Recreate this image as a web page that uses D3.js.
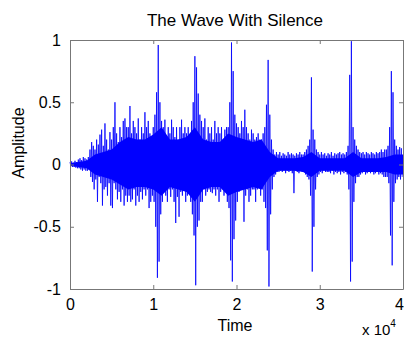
<!DOCTYPE html>
<html>
<head>
<meta charset="utf-8">
<script src="https://cdn.jsdelivr.net/npm/d3@7"></script>
<style>
  html, body { margin: 0; padding: 0; background: #fff; }
  svg { display: block; }
  text { font-family: "Liberation Sans", Arial, sans-serif; fill: #000; }
</style>
</head>
<body>
<div id="chart"></div>
<script>
// ---- data ----
const title = "The Wave With Silence";
const xLabel = "Time";
const yLabel = "Amplitude";
const xTicks = [0, 10000, 20000, 30000, 40000];
const xTickLabels = ["0", "1", "2", "3", "4"];
const yTicks = [-1, -0.5, 0, 0.5, 1];
const yTickLabels = ["-1", "-0.5", "0", "0.5", "1"];
const sampleStep = 100;   // one extreme value per 100 samples
const coreStep = 1000;    // one core-envelope value per 1000 samples
// amplitude extremes, one row per 1000 samples
const amplitude = [
  0.02,-0.015,0.025,-0.02,0.015,-0.02,0.03,-0.025,0.02,-0.03,
  0.04,-0.03,0.05,-0.04,0.035,-0.05,0.06,-0.04,0.05,-0.05,
  0.04,-0.05,0.06,-0.04,0.12,-0.1,0.18,-0.14,0.15,-0.2,
  0.12,-0.12,0.2,-0.3,0.16,-0.1,0.24,-0.15,0.28,-0.33,
  0.15,-0.2,0.33,-0.18,0.2,-0.25,0.12,-0.15,0.26,-0.33,
  0.2,-0.35,0.3,-0.15,0.5,-0.2,0.25,-0.28,0.18,-0.22,
  0.3,-0.3,0.22,-0.2,0.35,-0.33,0.37,-0.25,0.3,-0.3,
  0.3,-0.25,0.47,-0.3,0.25,-0.28,0.35,-0.2,0.3,-0.33,
  0.25,-0.25,0.37,-0.3,0.2,-0.22,0.3,-0.28,0.25,-0.2,
  0.42,-0.25,0.3,-0.2,0.35,-0.35,0.25,-0.3,0.22,-0.25,
  0.3,-0.3,0.4,-0.5,0.58,-0.91,0.96,-0.78,0.5,-0.4,
  0.35,-0.3,0.3,-0.2,0.36,-0.25,0.2,-0.3,0.3,-0.2,
  0.25,-0.26,0.36,-0.2,0.3,-0.3,0.22,-0.47,0.3,-0.26,
  0.2,-0.42,0.3,-0.22,0.36,-0.25,0.25,-0.2,0.3,-0.3,
  0.25,-0.25,0.3,-0.2,0.22,-0.3,0.35,-0.4,0.5,-0.57,
  0.87,-0.97,0.78,-0.5,0.57,-0.45,0.4,-0.3,0.35,-0.3,
  0.3,-0.2,0.37,-0.25,0.2,-0.22,0.3,-0.2,0.25,-0.22,
  0.3,-0.23,0.2,-0.2,0.35,-0.25,0.25,-0.2,0.3,-0.3,
  0.25,-0.22,0.3,-0.2,0.2,-0.25,0.28,-0.2,0.3,-0.3,
  0.3,-0.35,0.5,-0.77,0.98,-0.94,0.75,-0.6,0.4,-0.45,
  0.33,-0.3,0.3,-0.22,0.25,-0.2,0.35,-0.2,0.3,-0.46,
  0.44,-0.25,0.3,-0.2,0.25,-0.3,0.2,-0.25,0.28,-0.2,
  0.25,-0.2,0.2,-0.3,0.22,-0.2,0.25,-0.18,0.2,-0.25,
  0.2,-0.2,0.25,-0.3,0.3,-0.35,0.48,-0.69,0.84,-0.98,
  0.4,-0.4,0.2,-0.2,0.12,-0.1,0.08,-0.08,0.1,-0.06,
  0.08,-0.06,0.1,-0.05,0.07,-0.06,0.09,-0.05,0.08,-0.07,
  0.07,-0.05,0.1,-0.06,0.08,-0.05,0.09,-0.07,0.08,-0.23,
  0.07,-0.05,0.09,-0.06,0.08,-0.07,0.1,-0.05,0.08,-0.06,
  0.08,-0.06,0.1,-0.08,0.12,-0.1,0.15,-0.12,0.2,-0.25,
  0.7,-0.86,0.28,-0.5,0.2,-0.2,0.12,-0.1,0.1,-0.08,
  0.08,-0.06,0.1,-0.07,0.08,-0.05,0.09,-0.06,0.07,-0.06,
  0.09,-0.06,0.08,-0.07,0.1,-0.05,0.07,-0.08,0.09,-0.06,
  0.08,-0.07,0.09,-0.06,0.1,-0.08,0.08,-0.06,0.09,-0.07,
  0.08,-0.06,0.1,-0.08,0.15,-0.2,0.72,-0.94,0.99,-0.78,
  0.3,-0.3,0.2,-0.15,0.15,-0.1,0.12,-0.1,0.1,-0.08,
  0.09,-0.07,0.1,-0.06,0.08,-0.08,0.1,-0.07,0.09,-0.06,
  0.08,-0.07,0.1,-0.06,0.09,-0.08,0.08,-0.07,0.1,-0.06,
  0.09,-0.08,0.1,-0.07,0.12,-0.08,0.1,-0.1,0.12,-0.1,
  0.12,-0.1,0.15,-0.15,0.3,-0.57,0.75,-0.81,0.58,-0.3,
  0.2,-0.15,0.15,-0.12,0.12,-0.1,0.14,-0.12,0.13,-0.1
];
// dense core of the waveform (solid blue band), per 1000 samples
const coreUpper = [0.01,0.02,0.03,0.08,0.1,0.12,0.18,0.22,0.2,0.2,
                   0.24,0.3,0.2,0.2,0.22,0.3,0.2,0.18,0.18,0.25,
                   0.22,0.2,0.18,0.2,0.1,0.05,0.05,0.05,0.06,0.1,
                   0.05,0.05,0.05,0.05,0.1,0.05,0.05,0.05,0.06,0.08,0.08];
const coreLower = [-0.01,-0.02,-0.03,-0.08,-0.1,-0.12,-0.16,-0.2,-0.18,-0.18,
                   -0.2,-0.25,-0.18,-0.2,-0.22,-0.3,-0.2,-0.18,-0.18,-0.25,
                   -0.22,-0.2,-0.18,-0.2,-0.1,-0.05,-0.05,-0.05,-0.06,-0.1,
                   -0.05,-0.05,-0.05,-0.05,-0.1,-0.06,-0.06,-0.06,-0.06,-0.08,-0.08];

// ---- layout ----
const W = 404, H = 339;
const plot = { left: 70, right: 403, top: 40, bottom: 289 };

const svg = d3.select("#chart").append("svg")
  .attr("width", W).attr("height", H);

const x = d3.scaleLinear().domain([0, 40000]).range([plot.left, plot.right]);
const y = d3.scaleLinear().domain([-1, 1]).range([plot.bottom, plot.top]);

// dense core band
const core = coreUpper.map((u, i) => ({ t: i * coreStep, u, l: coreLower[i] }));
svg.append("path")
  .datum(core)
  .attr("fill", "#0000ff")
  .attr("d", d3.area().x(d => x(d.t)).y0(d => y(d.l)).y1(d => y(d.u)));

// waveform extremes
const pts = amplitude.map((v, i) => [i * sampleStep, v]);
svg.append("path")
  .datum(pts)
  .attr("fill", "none")
  .attr("stroke", "#0000ff")
  .attr("stroke-width", 0.8)
  .attr("d", d3.line().x(d => x(d[0])).y(d => y(d[1])));

// axes (MATLAB style: inward ticks, box)
const axisColor = "#777";
const tickLen = 4;
function styleAxis(g) {
  g.select(".domain").attr("stroke", axisColor);
  g.selectAll(".tick line").attr("stroke", axisColor);
}
svg.append("g").attr("transform", `translate(0,${plot.bottom})`)
  .call(d3.axisBottom(x).tickValues(xTicks).tickSizeInner(-tickLen).tickSizeOuter(0)
    .tickPadding(10).tickFormat((d, i) => xTickLabels[i]))
  .call(styleAxis)
  .call(g => g.selectAll("text").attr("font-size", 16).attr("font-family", "Liberation Sans, Arial, sans-serif").attr("fill", "#000")
    .attr("dx", (d, i) => i === xTicks.length - 1 ? -4 : 0));
svg.append("g").attr("transform", `translate(0,${plot.top})`)
  .call(d3.axisTop(x).tickValues(xTicks).tickSizeInner(-tickLen).tickSizeOuter(0).tickFormat(""))
  .call(styleAxis);
svg.append("g").attr("transform", `translate(${plot.left},0)`)
  .call(d3.axisLeft(y).tickValues(yTicks).tickSizeInner(-tickLen).tickSizeOuter(0)
    .tickPadding(9).tickFormat((d, i) => yTickLabels[i]))
  .call(styleAxis)
  .call(g => g.selectAll("text").attr("font-size", 16).attr("font-family", "Liberation Sans, Arial, sans-serif").attr("fill", "#000"));
svg.append("g").attr("transform", `translate(${plot.right},0)`)
  .call(d3.axisRight(y).tickValues(yTicks).tickSizeInner(-tickLen).tickSizeOuter(0).tickFormat(""))
  .call(styleAxis);

// title and labels
svg.append("text").attr("x", 235).attr("y", 26).attr("text-anchor", "middle")
  .attr("font-size", 17).text(title);
svg.append("text").attr("x", 235).attr("y", 331).attr("text-anchor", "middle")
  .attr("font-size", 16).text(xLabel);
svg.append("text").attr("transform", "translate(24,143) rotate(-90)")
  .attr("text-anchor", "middle").attr("font-size", 16).text(yLabel);
const mult = svg.append("text").attr("x", 362).attr("y", 335).attr("font-size", 15);
mult.append("tspan").text("x 10");
mult.append("tspan").attr("dy", -8).attr("font-size", 10).text("4");
</script>
</body>
</html>
